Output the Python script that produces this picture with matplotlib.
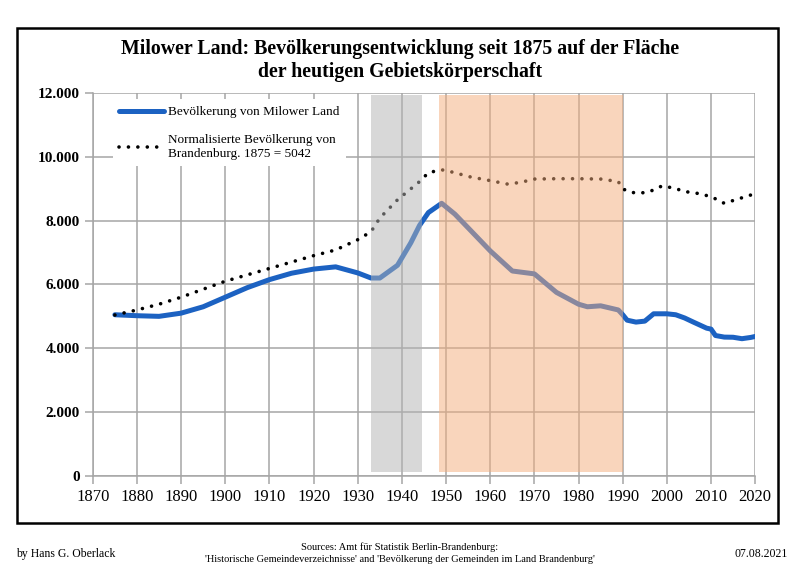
import numpy as np
import matplotlib.pyplot as plt
from matplotlib.patches import Rectangle
from matplotlib.ticker import FuncFormatter

# Bevoelkerung von Milower Land
jahre_ml = [1875, 1880, 1885, 1890, 1895, 1900, 1905, 1910, 1915, 1920, 1925, 1930,
            1933, 1935, 1939, 1942, 1944, 1946, 1949, 1952, 1955, 1960, 1965, 1970,
            1975, 1980, 1982, 1985, 1989, 1990, 1991, 1993, 1995, 1997, 2000, 2002,
            2004, 2006, 2009, 2010, 2011, 2013, 2015, 2017, 2019, 2020]
bev_ml = [5050, 5020, 5000, 5100, 5300, 5600, 5900, 6150, 6350, 6480, 6550, 6360,
          6200, 6200, 6600, 7300, 7850, 8250, 8540, 8200, 7770, 7050, 6420, 6330,
          5750, 5380, 5300, 5330, 5200, 5050, 4880, 4820, 4850, 5080, 5080, 5050,
          4950, 4820, 4630, 4600, 4400, 4350, 4345, 4300, 4340, 4370]

# Normalisierte Bevoelkerung von Brandenburg, 1875 = 5042
jahre_bb = [1875, 1880, 1885, 1890, 1895, 1900, 1905, 1910, 1915, 1920, 1925, 1930,
            1933, 1935, 1939, 1944, 1946, 1949, 1952, 1955, 1960, 1964, 1967, 1970,
            1975, 1980, 1985, 1989, 1990, 1992, 1994, 1996, 1999, 2002, 2004, 2007,
            2010, 2013, 2016, 2019, 2020]
bev_bb = [5042, 5200, 5380, 5600, 5850, 6100, 6300, 6500, 6700, 6900, 7080, 7400,
          7650, 8080, 8650, 9220, 9500, 9590, 9500, 9380, 9250, 9140, 9200, 9300,
          9310, 9310, 9300, 9220, 8990, 8880, 8860, 8900, 9090, 9000, 8910, 8850,
          8750, 8540, 8670, 8800, 8830]

nazi = (1933, 1944.6)
ddr = (1948.3, 1990)

plt.rcParams['font.family'] = ['Liberation Serif', 'DejaVu Serif']

fig = plt.figure(figsize=(8, 5.66), dpi=100)
ax = fig.add_axes([0.116, 0.159, 0.828, 0.677])

ax.plot(jahre_ml, bev_ml, color='#1c62c2', lw=3.6, solid_capstyle='round',
        label='Bevölkerung von Milower Land', zorder=3)
ax.plot(jahre_bb, bev_bb, color='black', lw=2.6, linestyle=(0, (0.01, 2.6)),
        dash_capstyle='round',
        label='Normalisierte Bevölkerung von\nBrandenburg. 1875 = 5042', zorder=3)

ax.axvspan(nazi[0], nazi[1], ymin=0.01, ymax=0.995, color='#b3b3b3', alpha=0.5,
           lw=0, zorder=4)
ax.axvspan(ddr[0], ddr[1], ymin=0.01, ymax=0.995, color='#f5ad7b', alpha=0.5,
           lw=0, zorder=4)

ax.set_xlim(1870, 2020)
ax.set_ylim(0, 12000)
ax.set_xticks(np.arange(1870, 2021, 10))
ax.set_yticks(np.arange(0, 12001, 2000))
ax.yaxis.set_major_formatter(FuncFormatter(lambda v, p: f'{int(v):,}'.replace(',', '.')))
ax.grid(True, color='#a6a6a6', lw=1.1, zorder=1)
ax.set_axisbelow(True)
for s in ['top', 'right']:
    ax.spines[s].set_visible(False)
for s in ['left', 'bottom']:
    ax.spines[s].set_color('#a6a6a6')
    ax.spines[s].set_linewidth(1.1)
ax.tick_params(axis='both', color='#a6a6a6', width=1.1, length=6)
ax.tick_params(axis='x', labelsize=12)
ax.tick_params(axis='y', labelsize=11)
for t in ax.get_yticklabels():
    t.set_fontweight('bold')

leg = ax.legend(loc='upper left', bbox_to_anchor=(0.02, 1.0), frameon=True,
                fontsize=9.5, handlelength=3.4, handletextpad=0.3,
                labelspacing=1.2, borderpad=0.5)
leg.get_frame().set_edgecolor('none')
leg.get_frame().set_facecolor('white')
leg.get_frame().set_alpha(1)
leg.set_zorder(5)

fig.text(0.5, 0.893, 'Milower Land: Bevölkerungsentwicklung seit 1875 auf der Fläche\n'
         'der heutigen Gebietskörperschaft', ha='center', va='center',
         fontsize=14.3, fontweight='bold', linespacing=1.25)

fig.patches.append(Rectangle((0.021, 0.076), 0.952, 0.875, transform=fig.transFigure,
                             fill=False, edgecolor='black', lw=1.8))

fig.text(0.02, 0.022, 'by Hans G. Oberlack', fontsize=8.5, ha='left', va='center')
fig.text(0.5, 0.022, "Sources: Amt für Statistik Berlin-Brandenburg:\n"
         "'Historische Gemeindeverzeichnisse' and 'Bevölkerung der Gemeinden im Land Brandenburg'",
         fontsize=7.5, ha='center', va='center', linespacing=1.4)
fig.text(0.985, 0.022, '07.08.2021', fontsize=8.5, ha='right', va='center')

fig.savefig('out.png', dpi=100)
